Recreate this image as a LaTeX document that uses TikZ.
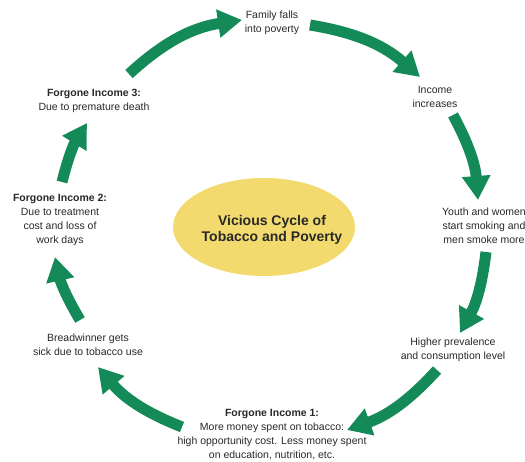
\documentclass[tikz,border=0pt]{standalone}
\usepackage{fontspec}
\setmainfont{Liberation Sans}
\usetikzlibrary{arrows.meta,shapes.geometric}
\definecolor{cyclegreen}{RGB}{20,138,88}
\definecolor{hubyellow}{RGB}{243,218,110}
\definecolor{labelgray}{RGB}{40,40,40}

\begin{document}
\begin{tikzpicture}[x=1pt,y=1pt,
  stage/.style={align=center, font=\fontsize{10.5}{14}\selectfont, text=labelgray, inner sep=0pt},
  flow/.style={draw=cyclegreen, line width=11pt, -{Triangle[length=24pt,width=27pt]}},
  hub/.style={ellipse, fill=hubyellow, minimum width=182pt, minimum height=98pt, inner sep=0pt},
  hubtitle/.style={align=center, font=\fontsize{14}{16.5}\selectfont\bfseries, text=labelgray, inner sep=0pt}]
\useasboundingbox (0,0) rectangle (525,-462);

% centre of the cycle
\node[hub] (hub) at (264,-227) {};
\node[hubtitle] (hubtext) at (272,-230) {Vicious Cycle of\\Tobacco and Poverty};

% stages, clockwise from the top
\node[stage] (fam) at (272,-22.5) {Family falls\\into poverty};
\node[stage] (inc) at (435,-97) {Income\\increases};
\node[stage] (youth) at (484,-225.5) {Youth and women\\start smoking and\\men smoke more};
\node[stage] (prev) at (453,-350) {Higher prevalence\\and consumption level};
\node[stage] (fi1) at (272,-434.5) {\textbf{Forgone Income 1:}\\More money spent on tobacco:\\high opportunity cost. Less money spent\\on education, nutrition, etc.};
\node[stage] (bread) at (88,-345) {Breadwinner gets\\sick due to tobacco use};
\node[stage] (fi2) at (60,-220) {\textbf{Forgone Income 2:}\\Due to treatment\\cost and loss of\\work days};
\node[stage] (fi3) at (94,-101) {\textbf{Forgone Income 3:}\\Due to premature death};

% arrow ends between neighbouring stages
\coordinate (fi3-out) at (129,-74);   \coordinate (fam-in) at (242,-20);
\coordinate (fam-out) at (310,-25);   \coordinate (inc-in) at (420,-77);
\coordinate (inc-out) at (453,-115);  \coordinate (youth-in) at (478,-200);
\coordinate (youth-out) at (486,-252);\coordinate (prev-in) at (460,-333);
\coordinate (prev-out) at (437,-370); \coordinate (fi1-in) at (347,-430);
\coordinate (fi1-out) at (182,-427);  \coordinate (bread-in) at (98,-367);
\coordinate (bread-out) at (80,-320); \coordinate (fi2-in) at (55,-257);
\coordinate (fi2-out) at (62,-182);   \coordinate (fi3-in) at (87,-123);

\draw[flow] (fi3-out) to[bend left=17] (fam-in);
\draw[flow] (fam-out) to[bend left=16] (inc-in);
\draw[flow] (inc-out) to[bend left=12] (youth-in);
\draw[flow] (youth-out) to[bend left=11] (prev-in);
\draw[flow] (prev-out) to[bend left=14] (fi1-in);
\draw[flow] (fi1-out) to[bend left=14] (bread-in);
\draw[flow] (bread-out) to[bend left=9] (fi2-in);
\draw[flow] (fi2-out) to[bend left=9] (fi3-in);
\end{tikzpicture}
\end{document}
